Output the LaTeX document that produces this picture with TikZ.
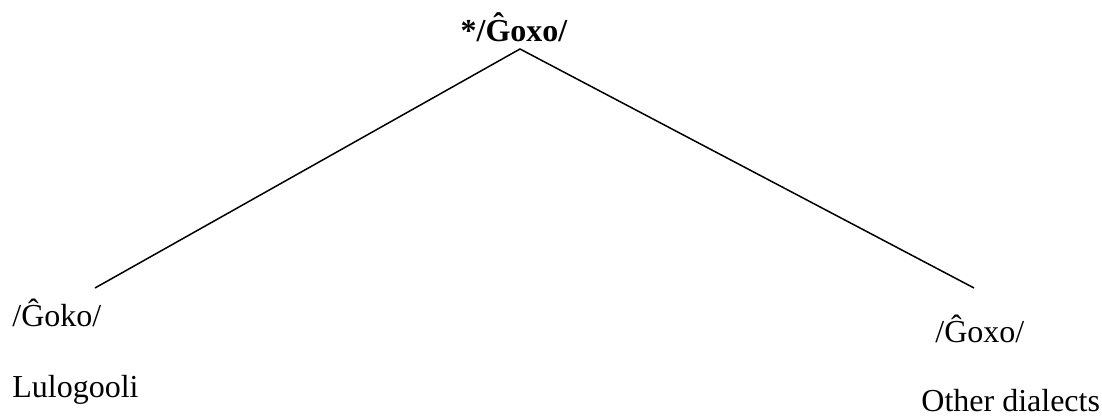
\documentclass[tikz,border=0pt]{standalone}
\usepackage{fontspec}
\setmainfont{Liberation Serif}
\usepackage{tikz}
\usetikzlibrary{positioning}

\begin{document}
\begin{tikzpicture}[x=0.5pt, y=-0.5pt,
    word/.style={inner sep=0pt, font=\fontsize{16}{19}\selectfont},
    root/.style={word, font=\fontsize{16}{19}\selectfont\bfseries},
    branch/.style={line width=0.75pt}]

    \useasboundingbox (0, 0) rectangle (1102, 416);

    % Reconstructed form
    \node[root, anchor=base] (proto) at (514, 42) {*/Ĝoxo/};

    % Branch points
    \coordinate (apex) at (520, 49);
    \coordinate (lend) at (95, 288);
    \coordinate (rend) at (974, 288);

    % Branches
    \draw[branch] (lend) -- (apex) -- (rend);

    % Left reflex
    \node[word, anchor=base west] (goko) at (12, 327) {/Ĝoko/};
    \node[word, anchor=base west] (lulogooli) at (12, 397) {Lulogooli};

    % Right reflex
    \node[word, anchor=base west] (goxo) at (935, 343) {/Ĝoxo/};
    \node[word, anchor=base west] (others) at (921, 411) {Other dialects};

\end{tikzpicture}
\end{document}
